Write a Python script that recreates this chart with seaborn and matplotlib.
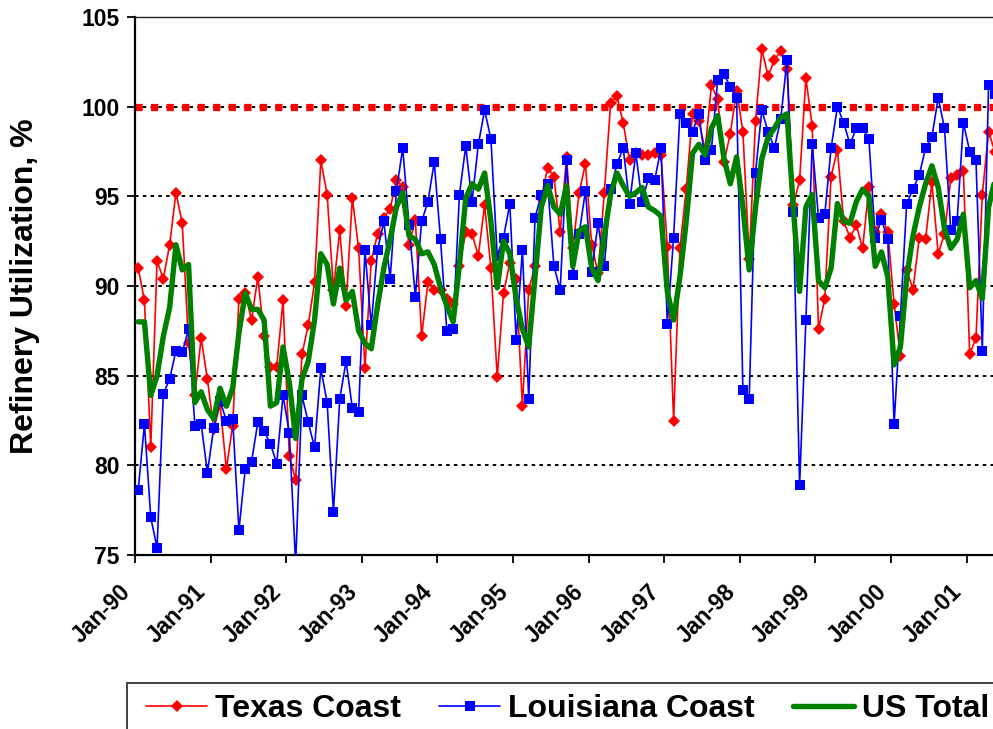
import numpy as np
import pandas as pd
import matplotlib
matplotlib.use("Agg")
import matplotlib.pyplot as plt
from matplotlib.patches import Rectangle
import seaborn as sns

# Monthly refinery utilization (%), Jan-1990 onward
year_labels = ["Jan-90", "Jan-91", "Jan-92", "Jan-93", "Jan-94", "Jan-95",
               "Jan-96", "Jan-97", "Jan-98", "Jan-99", "Jan-00", "Jan-01"]
y_ticks = [75, 80, 85, 90, 95, 100, 105]
capacity_line = 100

texas_coast = [
    91.0, 89.2, 81.0, 91.4, 90.4, 92.3, 95.2, 93.5, 86.8, 83.9, 87.1, 84.8,
    82.0, 83.4, 79.8, 82.2, 89.3, 89.6, 88.1, 90.5, 87.2, 85.5, 85.5, 89.2,
    80.5, 79.2, 86.2, 87.8, 90.2, 97.0, 95.1, 89.8, 93.1, 88.9, 94.9, 92.1,
    85.4, 91.4, 92.9, 93.8, 94.3, 95.9, 95.5, 92.3, 93.7, 87.2, 90.2, 89.8,
    89.8, 89.3, 89.0, 91.1, 93.0, 92.9, 91.7, 94.5, 91.0, 84.9, 89.6, 91.3,
    90.4, 83.3, 89.8, 91.1, 94.9, 96.6, 96.1, 93.0, 97.2, 92.1, 95.2, 96.8,
    92.3, 90.7, 95.2, 100.2, 100.6, 99.1, 97.0, 97.4, 97.3, 97.3, 97.4, 97.3,
    92.2, 82.5, 92.1, 95.4, 99.6, 99.2, 97.6, 101.2, 100.4, 96.9, 98.5, 100.9,
    98.6, 91.5, 99.2, 103.2, 101.7, 102.6, 103.1, 102.1, 94.5, 95.9, 101.6, 98.9,
    87.6, 89.3, 96.1, 97.6, 93.6, 92.7, 93.4, 92.1, 95.5, 93.0, 94.0, 93.0,
    89.0, 86.1, 90.9, 89.8, 92.7, 92.6, 95.8, 91.8, 92.9, 96.0, 96.2, 96.4,
    86.2, 87.1, 95.1, 98.6, 97.5,
]

louisiana_coast = [
    78.6, 82.3, 77.1, 75.4, 84.0, 84.8, 86.4, 86.3, 87.6, 82.2, 82.3, 79.6,
    82.1, 83.6, 82.5, 82.6, 76.4, 79.8, 80.2, 82.4, 81.9, 81.2, 80.1, 83.9,
    81.8, 74.5, 83.9, 82.4, 81.0, 85.4, 83.5, 77.4, 83.7, 85.8, 83.2, 83.0,
    92.0, 87.8, 92.0, 93.6, 90.4, 95.3, 97.7, 93.4, 89.4, 93.6, 94.7, 96.9,
    92.6, 87.5, 87.6, 95.1, 97.8, 94.7, 97.9, 99.8, 98.2, 91.7, 92.7, 94.6,
    87.0, 92.0, 83.7, 93.8, 95.1, 95.7, 91.1, 89.8, 97.0, 90.6, 92.9, 95.3,
    90.8, 93.5, 91.1, 95.4, 96.8, 97.7, 94.6, 97.4, 94.7, 96.0, 95.9, 97.7,
    87.9, 92.7, 99.6, 99.1, 98.6, 99.6, 97.0, 97.6, 101.5, 101.8, 101.1, 100.5,
    84.2, 83.7, 96.3, 99.8, 98.6, 97.7, 99.3, 102.6, 94.1, 78.9, 88.1, 97.9,
    93.8, 94.0, 97.7, 100.0, 99.1, 97.9, 98.8, 98.8, 98.2, 92.7, 93.7, 92.6,
    82.3, 88.3, 94.6, 95.4, 96.2, 97.7, 98.3, 100.5, 98.8, 93.1, 93.6, 99.1,
    97.5, 97.0, 86.4, 101.2, 100.7,
]

us_total = [
    88.0, 88.0, 83.9, 85.0, 87.2, 88.8, 92.3, 90.9, 91.2, 83.5, 84.1, 83.1,
    82.6, 84.3, 83.3, 84.3, 87.4, 89.6, 88.7, 88.7, 88.1, 83.3, 83.5, 86.6,
    84.6, 81.5, 84.8, 85.8, 88.1, 91.8, 91.2, 89.0, 91.0, 89.2, 89.7, 87.5,
    86.8, 86.5, 88.9, 91.0, 92.6, 94.4, 95.2, 92.8, 92.6, 91.8, 91.9, 91.2,
    89.9, 88.9, 88.0, 91.2, 94.9, 95.7, 95.4, 96.3, 93.6, 89.9, 92.5, 91.8,
    89.3, 87.6, 86.6, 90.5, 94.4, 95.6, 94.4, 94.0, 95.6, 91.1, 93.1, 93.3,
    91.0, 90.3, 92.8, 95.1, 96.3, 95.6, 95.0, 95.2, 95.5, 94.4, 94.2, 93.9,
    89.7, 88.1, 90.5, 93.6, 97.4, 97.9, 97.3, 98.8, 99.5, 97.1, 95.7, 97.2,
    94.4, 90.9, 94.4, 97.1, 98.3, 98.8, 99.4, 99.6, 94.4, 89.7, 94.4, 95.1,
    90.3, 89.9, 91.0, 94.6, 93.6, 93.5, 94.7, 95.4, 95.0, 91.1, 91.9, 90.5,
    85.6, 86.6, 90.5, 92.8, 94.4, 95.7, 96.7, 95.5, 93.2, 92.1, 92.6, 94.0,
    89.9, 90.3, 89.3, 94.4, 95.9,
]

# Months are plotted in the middle of each category slot
df = pd.DataFrame({
    "month": np.arange(len(texas_coast)) + 0.5,
    "Texas Coast": texas_coast,
    "Louisiana Coast": louisiana_coast,
    "US Total": us_total,
})

sns.set_style("white")
plt.rcParams["font.family"] = ["Liberation Sans", "DejaVu Sans"]
plt.rcParams["font.weight"] = "bold"
for key in ("text.color", "axes.labelcolor", "xtick.color", "ytick.color"):
    plt.rcParams[key] = "black"

W, H = 993, 729
fig = plt.figure(figsize=(W / 100, H / 100), dpi=100)
ax = fig.add_axes([135 / W, (H - 555) / H, (W - 135) / W, (555 - 17) / H])

# Dotted horizontal grid
for v in y_ticks[1:]:
    ax.axhline(v, color="black", lw=1.4, ls=(0, (1.8, 2.2)), zorder=1)
# Full-capacity reference as a chain of red squares
ax.axhline(capacity_line, color="#FF0000", lw=5.2, ls=(0, (1.0, 1.15)),
           dash_capstyle="butt", zorder=2)

sns.lineplot(data=df, x="month", y="Texas Coast", ax=ax, color="#FF0000",
             lw=1.2, marker="D", markersize=6.6, markeredgewidth=0,
             label="Texas Coast", zorder=3)
sns.lineplot(data=df, x="month", y="Louisiana Coast", ax=ax, color="#0000FF",
             lw=1.2, marker="s", markersize=7.6, markeredgewidth=0,
             label="Louisiana Coast", zorder=4)
sns.lineplot(data=df, x="month", y="US Total", ax=ax, color="#008000",
             lw=3.9, solid_joinstyle="round", solid_capstyle="round",
             label="US Total", zorder=5)

ax.set_xlim(0, 136.2)
ax.set_ylim(75, 105)
ax.set_xticks(np.arange(len(year_labels)) * 12)
ax.set_xticklabels(year_labels, rotation=45, ha="right", va="top",
                   fontsize=16.5, fontweight="bold", color="black")
ax.set_yticks(y_ticks)
ax.set_yticklabels([str(v) for v in y_ticks], fontsize=16.5,
                   fontweight="bold", color="black")
ax.tick_params(axis="both", direction="out", length=6, width=1.3,
               color="black", bottom=True, left=True)
ax.tick_params(axis="x", pad=12)
ax.tick_params(axis="y", pad=5)

ax.set_xlabel("")
ax.set_ylabel("Refinery Utilization, %", fontsize=23, fontweight="bold",
              labelpad=30, color="black")

for side in ("left", "bottom"):
    ax.spines[side].set_color("black")
    ax.spines[side].set_linewidth(1.6)
ax.spines["top"].set_color("#222222")
ax.spines["top"].set_linewidth(1.0)
ax.spines["right"].set_visible(False)

handles, labels = ax.get_legend_handles_labels()
ax.get_legend().remove()

# Legend box running past the right and bottom edges of the figure
fig.patches.append(Rectangle((127 / W, -0.05), 1.0, (0.05 + 1 - 683 / H),
                             transform=fig.transFigure, fill=False,
                             edgecolor="#333333", linewidth=1.3))
leg = fig.legend(handles, labels, loc="upper left",
                 bbox_to_anchor=(140 / W, 1 - 688 / H), ncol=3,
                 frameon=False, numpoints=1,
                 prop={"weight": "bold", "size": 23},
                 handlelength=1.9, handletextpad=0.25, columnspacing=1.2,
                 borderpad=0.2, borderaxespad=0)
for txt in leg.get_texts():
    txt.set_color("black")

fig.savefig("out.png", dpi=100)
